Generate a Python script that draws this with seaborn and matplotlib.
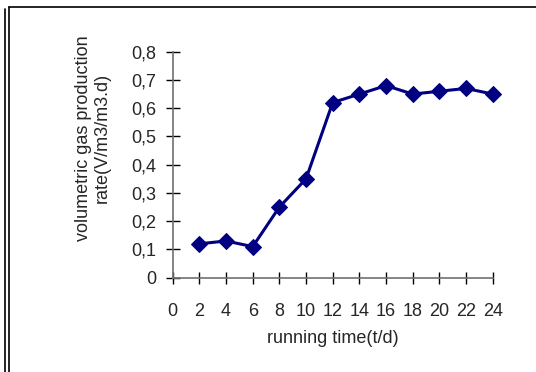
import matplotlib
matplotlib.use("Agg")
import matplotlib.pyplot as plt
from matplotlib.lines import Line2D
from matplotlib.ticker import FuncFormatter
import seaborn as sns
import pandas as pd

# running time (t/d) and volumetric gas production rate
running_time = [2, 4, 6, 8, 10, 12, 14, 16, 18, 20, 22, 24]
gas_rate = [0.12, 0.13, 0.11, 0.25, 0.35, 0.62, 0.65, 0.68, 0.65, 0.66, 0.67, 0.65]
x_ticks = list(range(0, 25, 2))
y_ticks = [0, 0.1, 0.2, 0.3, 0.4, 0.5, 0.6, 0.7, 0.8]

df = pd.DataFrame({"time": running_time, "rate": gas_rate})

sns.set_style("white")
plt.rcParams["font.family"] = ["Liberation Sans", "DejaVu Sans"]

fig = plt.figure(figsize=(5.36, 3.72), dpi=100)
ax = fig.add_axes([0.3222, 0.2535, 0.597, 0.6075])

sns.lineplot(data=df, x="time", y="rate", ax=ax, color="#000080",
             marker="D", markersize=8, markeredgecolor="#000080",
             linewidth=2.2, clip_on=False, zorder=5)

ax.set_xlim(0, 24)
ax.set_ylim(0, 0.8)
ax.set_xticks(x_ticks)
ax.set_yticks(y_ticks)
ax.yaxis.set_major_formatter(FuncFormatter(
    lambda v, p: "0" if abs(v) < 1e-9 else f"{v:.1f}".replace(".", ",")))

for side in ["top", "right"]:
    ax.spines[side].set_visible(False)
for side in ["left", "bottom"]:
    ax.spines[side].set_color("#707070")
    ax.spines[side].set_linewidth(1.2)

ax.tick_params(axis="y", direction="inout", length=10, width=1, color="black",
               labelsize=13, pad=7, left=True)
ax.tick_params(axis="x", direction="inout", length=9, width=1, color="black",
               labelsize=13, pad=14, bottom=True)

ax.set_xlabel("running time(t/d)", fontsize=13, labelpad=7)
ax.set_ylabel("")
fig.text(93 / 536, 1 - 138 / 372, "volumetric gas production\nrate(V/m3/m3.d)",
         rotation=90, ha="center", va="center", multialignment="center",
         fontsize=13, linespacing=1.1)

# outer frame lines
fig.add_artist(Line2D([5 / 536, 5 / 536], [0, 1 - 9 / 372], color="black", lw=1.2))
fig.add_artist(Line2D([8.5 / 536, 8.5 / 536], [0, 1 - 7 / 372], color="black", lw=1.2))
fig.add_artist(Line2D([8.5 / 536, 1], [1 - 7 / 372, 1 - 7 / 372], color="black", lw=1.2))

fig.savefig("out.png", dpi=100)
